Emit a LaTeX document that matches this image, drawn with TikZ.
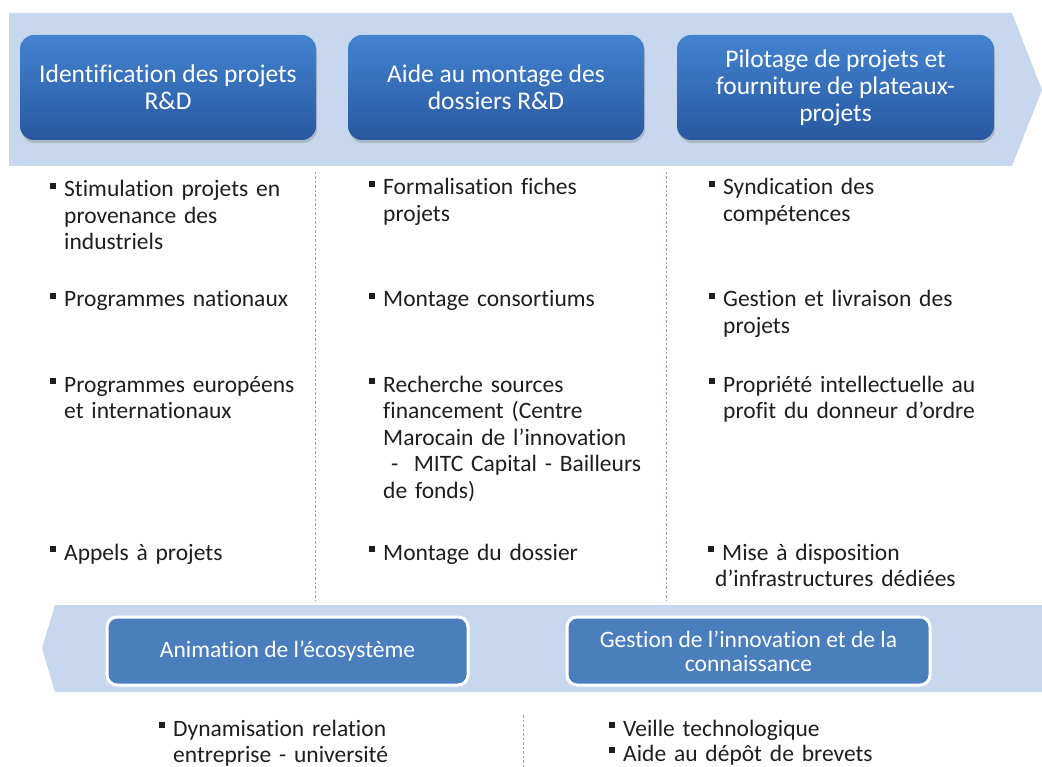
\documentclass[tikz,border=0pt]{standalone}
\usepackage{fontspec}
\setmainfont{Carlito}[Ligatures=CommonOff]
\usetikzlibrary{shadows}

\definecolor{bandblue}{HTML}{C6D7EE}
\definecolor{boxtop}{HTML}{4383D0}
\definecolor{boxbot}{HTML}{2858A0}
\definecolor{lowblue}{HTML}{4A7EBD}
\definecolor{sepblue}{HTML}{8EA6C6}
\definecolor{itemgray}{HTML}{1E1E1E}

\newcommand{\sqbul}{\llap{\rule[8pt]{6pt}{6pt}\hspace{8pt}}}

\tikzset{
  top_box/.style={rounded corners=14pt, top color=boxtop, bottom color=boxbot,
    text=white, align=center, inner sep=0pt,
    font=\fontsize{25.5}{27}\selectfont,
    drop shadow={shadow xshift=1pt, shadow yshift=-3pt, opacity=.35}},
  low_box/.style={rounded corners=10pt, fill=lowblue, draw=white, line width=3pt,
    text=white, align=center, inner sep=0pt,
    font=\fontsize{23.5}{24}\selectfont},
  item_txt/.style={anchor=base west, text width=300pt, align=left, inner sep=0pt,
    text=itemgray, font=\fontsize{23.5}{26.5}\selectfont},
}

\begin{document}
\begin{tikzpicture}[
  x=1pt, y=-1pt,
  band/.style={fill=bandblue, draw=none},
  sep line/.style={sepblue, line width=.8pt, dash pattern=on 2.5pt off 2pt},
  ]
  \useasboundingbox (0,0) rectangle (1042,767);

  % arrow bands
  \fill[band] (9,13) -- (1012,13) -- (1042,90) -- (1012,166) -- (9,166) -- cycle;
  \fill[band] (55,605) -- (1042,605) -- (1042,692) -- (55,692) -- (42,648) -- cycle;

  % upper steps
  \node[top_box, minimum width=296pt, minimum height=105pt] (top1) at (168,87.5)
    {Identification des projets\\R\&D};
  \node[top_box, minimum width=296pt, minimum height=105pt] (top2) at (496,87.5)
    {Aide au montage des\\dossiers R\&D};
  \node[top_box, minimum width=317pt, minimum height=105pt] (top3) at (835.5,87.5)
    {Pilotage de projets et\\fourniture de plateaux-\\projets};

  % lower steps
  \node[low_box, minimum width=361pt, minimum height=68pt] (low1) at (287.5,651)
    {Animation de l’écosystème};
  \node[low_box, minimum width=363pt, minimum height=68pt] (low2) at (748.5,651)
    {Gestion de l’innovation et de la\\connaissance};

  % separators
  \draw[sep line] (315,172) -- (315,600);
  \draw[sep line] (666,172) -- (666,600);
  \draw[sep line] (523,715) -- (523,767);

  % bullet lists
  \foreach \Name/\Pos/\Txt in {
    c1a/{(64,197)}/{Stimulation projets en\\provenance des\\industriels},
    c1b/{(64,307)}/{Programmes nationaux},
    c1c/{(64,392)}/{Programmes européens\\et internationaux},
    c1d/{(64,560)}/{Appels à projets},
    c2a/{(383,195)}/{Formalisation fiches\\projets},
    c2b/{(383,307)}/{Montage consortiums},
    c2c/{(383,392)}/{Recherche sources\\financement (Centre\\Marocain de l’innovation\\\ -\ \ MITC Capital - Bailleurs\\de fonds)},
    c2d/{(383,560)}/{Montage du dossier},
    c3a/{(723,195)}/{Syndication des\\compétences},
    c3b/{(723,307)}/{Gestion et livraison des\\projets},
    c3c/{(723,392)}/{Propriété intellectuelle au\\profit du donneur d’ordre},
    c3d/{(722,560)}/{Mise à disposition\\\hspace*{-7pt}d’infrastructures dédiées},
    b1a/{(173,736)}/{Dynamisation relation\\entreprise - université},
    b2a/{(623,736)}/{Veille technologique},
    b2b/{(623,761)}/{Aide au dépôt de brevets}}{
    \node[item_txt] (\Name) at \Pos {\sqbul\Txt};
  }
\end{tikzpicture}
\end{document}
